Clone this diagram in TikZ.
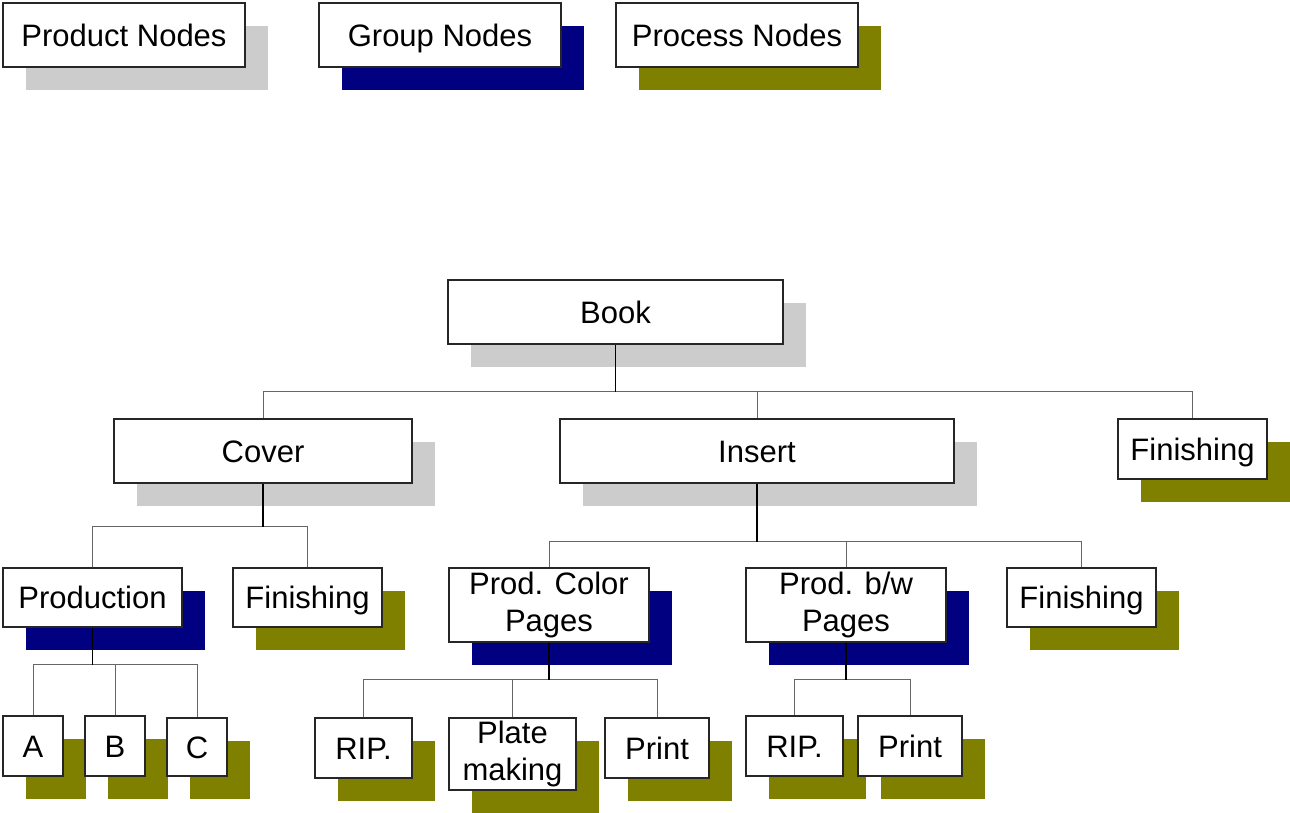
\documentclass[tikz,border=0pt]{standalone}
\usepackage{fontspec}
\setmainfont{Liberation Sans}
\usetikzlibrary{shadows}

\definecolor{prodshade}{HTML}{CCCCCC}
\definecolor{groupshade}{HTML}{000080}
\definecolor{procshade}{HTML}{808000}

\tikzset{
  box/.style={draw=black!85, line width=1.2pt, fill=white, inner sep=0pt,
    align=center, font=\fontsize{31}{37.5}\selectfont,
    text height=22pt, text depth=0pt},
  twoline/.style={text height={}, text depth={}},
  shade/.style={general shadow={draw=none, fill=#1,
    shadow xshift=22.5pt, shadow yshift=-22.5pt}},
  prodbox/.style={box, shade=prodshade},
  groupbox/.style={box, shade=groupshade},
  procbox/.style={box, shade=procshade},
  sz/.style 2 args={minimum width=#1pt, minimum height=#2pt},
  link/.style={draw=black!60, line width=1pt},
  stem/.style={draw=black, line width=1.4pt},
}

\begin{document}
\begin{tikzpicture}[x=1pt, y=-1pt]
\useasboundingbox (0,0) rectangle (1290,812);

% legend
\node[prodbox,  sz={242}{64}] (lprod)  at (124,35) {Product Nodes};
\node[groupbox, sz={242}{64}] (lgroup) at (440,35) {Group Nodes};
\node[procbox,  sz={242}{64}] (lproc)  at (737,35) {Process Nodes};

% tree
\node[prodbox,  sz={335}{64}] (book)   at (615.5,312) {Book};
\node[prodbox,  sz={298}{64}] (cover)  at (263,451)   {Cover};
\node[prodbox,  sz={394}{64}] (insert) at (757,451)   {Insert};
\node[procbox,  sz={149}{60}] (finB)   at (1192.5,449) {Finishing};

\node[groupbox, sz={179}{59}] (production) at (92.5,597.5) {Production};
\node[procbox,  sz={149}{59}] (finC)   at (307.5,597.5) {Finishing};
\node[groupbox, twoline, sz={200}{74}] (color) at (549,605) {Prod. Color\\Pages};
\node[groupbox, twoline, sz={200}{74}] (bw)    at (846,605) {Prod. b/w\\Pages};
\node[procbox,  sz={149}{59}] (finI)   at (1081.5,597.5) {Finishing};

\node[procbox, sz={60}{60}]  (a)      at (33,746)    {A};
\node[procbox, sz={60}{60}]  (b)      at (115,746)   {B};
\node[procbox, sz={60}{58}]  (c)      at (197,747)   {C};
\node[procbox, sz={97}{60}]  (rip1)   at (363.5,748) {RIP.};
\node[procbox, twoline, sz={127}{72}] (plate) at (512.5,754) {Plate\\making};
\node[procbox, sz={104}{60}] (print1) at (657,748)   {Print};
\node[procbox, sz={97}{60}]  (rip2)   at (794.5,746) {RIP.};
\node[procbox, sz={104}{60}] (print2) at (910,746)   {Print};

% bus points below each parent
\path (book.south)       ++(0,47) coordinate (bookbus);
\path (cover.south)      ++(0,43) coordinate (coverbus);
\path (insert.south)     ++(0,58) coordinate (insertbus);
\path (production.south) ++(0,37) coordinate (prodbus);
\path (color.south)      ++(0,37) coordinate (colorbus);
\path (bw.south)         ++(0,37) coordinate (bwbus);

% branches
\draw[link] (cover.north) |- (bookbus) -| (finB.north);
\draw[link] (insert.north) -- (insert.north |- bookbus);
\draw[link] (production.north) |- (coverbus) -| (finC.north);
\draw[link] (color.north) |- (insertbus) -| (finI.north);
\draw[link] (bw.north) -- (bw.north |- insertbus);
\draw[link] (a.north) |- (prodbus) -| (c.north);
\draw[link] (b.north) -- (b.north |- prodbus);
\draw[link] (rip1.north) |- (colorbus) -| (print1.north);
\draw[link] (plate.north) -- (plate.north |- colorbus);
\draw[link] (rip2.north) |- (bwbus) -| (print2.north);

% stems
\draw[stem] (book.south) -- (bookbus);
\draw[stem] (cover.south) -- (coverbus);
\draw[stem] (insert.south) -- (insertbus);
\draw[stem] (production.south) -- (prodbus);
\draw[stem] (color.south) -- (colorbus);
\draw[stem] (bw.south) -- (bwbus);
\end{tikzpicture}
\end{document}
